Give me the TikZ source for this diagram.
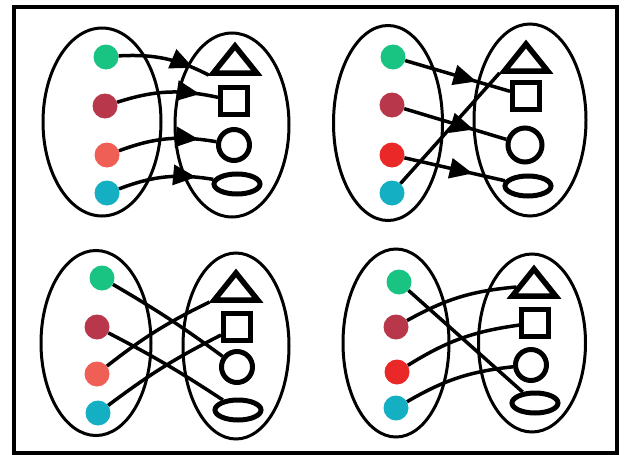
\documentclass[tikz,border=0pt]{standalone}
\usetikzlibrary{arrows.meta,shapes.geometric,decorations.markings}
\definecolor{dotgreen}{RGB}{25,195,130}
\definecolor{dotteal}{RGB}{20,175,195}
\definecolor{dotmaroon}{RGB}{185,55,75}
\definecolor{dotsalmon}{RGB}{240,95,85}
\definecolor{dotred}{RGB}{235,40,40}
\tikzset{
  setoval/.style={draw, ellipse, line width=3pt, inner sep=0pt},
  markdot/.style={circle, inner sep=0pt, minimum size=25pt},
  shapetri/.style={draw, regular polygon, regular polygon sides=3, minimum size=50pt, inner sep=0pt, yscale=0.72, transform shape, line width=5.5pt},
  shapesq/.style={draw, rectangle, minimum size=27pt, inner sep=0pt, line width=5pt},
  shapecirc/.style={draw, circle, minimum size=31pt, inner sep=0pt, line width=5pt},
  shapeoval/.style={draw, ellipse, minimum width=46pt, minimum height=20pt, inner sep=0pt, line width=5pt},
  link/.style={line width=3.5pt},
  arrowlink/.style={link, postaction={decorate},
    decoration={markings, mark=at position #1 with {\arrow{Triangle[length=23pt,width=20pt]}}}},
  arrowlink/.default=0.7
}
\begin{document}
\begin{tikzpicture}[x=1pt, y=-1pt]
  \useasboundingbox (0,0) rectangle (627,455);
  % Frame
  \draw[line width=3.5pt] (14,7) rectangle (617,453);

  % Panel 1: top left
  \node[setoval, minimum width=118pt, minimum height=188pt] (p1dom) at (102,122) {};
  \node[setoval, minimum width=114pt, minimum height=184pt] (p1cod) at (232,125) {};
  \node[markdot, fill=dotgreen] (p1g) at (106,57) {};
  \node[markdot, fill=dotmaroon] (p1m) at (105,106) {};
  \node[markdot, fill=dotsalmon] (p1s) at (107,155) {};
  \node[markdot, fill=dotteal] (p1t) at (107,193) {};
  \node[shapetri] (p1tri) at (235,64) {};
  \node[shapesq] (p1sq) at (234,101) {};
  \node[shapecirc] (p1circ) at (234,145) {};
  \node[shapeoval] (p1oval) at (237,184) {};
  \draw[arrowlink=0.82] (p1g) to[bend left=15] (p1tri.corner 2);
  \draw[arrowlink=0.82] (p1m) to[bend left=15] (p1sq);
  \draw[arrowlink=0.82] (p1s) to[bend left=15] (p1circ);
  \draw[arrowlink=0.82] (p1t) to[bend left=15] (p1oval);

  % Panel 2: top right
  \node[setoval, minimum width=109pt, minimum height=195pt] (p2dom) at (388,123) {};
  \node[setoval, minimum width=112pt, minimum height=192pt] (p2cod) at (530,120) {};
  \node[markdot, fill=dotgreen] (p2g) at (393,57) {};
  \node[markdot, fill=dotmaroon] (p2m) at (392,105) {};
  \node[markdot, fill=dotred] (p2r) at (392,155) {};
  \node[markdot, fill=dotteal] (p2t) at (392,193) {};
  \node[shapetri] (p2tri) at (526,62) {};
  \node[shapesq] (p2sq) at (526,96) {};
  \node[shapecirc, minimum size=34pt] (p2circ) at (525,145) {};
  \node[shapeoval] (p2oval) at (528,186) {};
  \draw[arrowlink=0.68] (p2g) -- (p2sq);
  \draw[arrowlink=0.68] (p2m) -- (p2circ);
  \draw[arrowlink=0.68] (p2r) -- (p2oval);
  \draw[link] (p2t) -- (p2tri.corner 2);

  % Panel 3: bottom left
  \node[setoval, minimum width=110pt, minimum height=185pt] (p3dom) at (96,343) {};
  \node[setoval, minimum width=106pt, minimum height=186pt] (p3cod) at (236,346) {};
  \node[markdot, fill=dotgreen] (p3g) at (102,278) {};
  \node[markdot, fill=dotmaroon] (p3m) at (97,327) {};
  \node[markdot, fill=dotsalmon] (p3s) at (97,374) {};
  \node[markdot, fill=dotteal] (p3t) at (98,413) {};
  \node[shapetri] (p3tri) at (236,291) {};
  \node[shapesq] (p3sq) at (237,327) {};
  \node[shapecirc] (p3circ) at (237,367) {};
  \node[shapeoval] (p3oval) at (238,410) {};
  \draw[link] (p3g) to[bend left=3] (p3circ);
  \draw[link] (p3m) to[bend left=3] (p3oval);
  \draw[link] (p3s) to[bend left=6] (p3tri.corner 2);
  \draw[link] (p3t) to[bend left=5] (p3sq);

  % Panel 4: bottom right
  \node[setoval, minimum width=106pt, minimum height=188pt] (p4dom) at (396,343) {};
  \node[setoval, minimum width=107pt, minimum height=178pt] (p4cod) at (532,343) {};
  \node[markdot, fill=dotgreen] (p4g) at (399,282) {};
  \node[markdot, fill=dotmaroon] (p4m) at (396,327) {};
  \node[markdot, fill=dotred] (p4r) at (397,372) {};
  \node[markdot, fill=dotteal] (p4t) at (396,408) {};
  \node[shapetri] (p4tri) at (534,287) {};
  \node[shapesq] (p4sq) at (535,323) {};
  \node[shapecirc] (p4circ) at (531,365) {};
  \node[shapeoval] (p4oval) at (535,403) {};
  \draw[link] (p4g) -- (p4oval);
  \draw[link] (p4m) to[bend left=12] (p4tri.west);
  \draw[link] (p4r) to[bend left=12] (p4sq);
  \draw[link] (p4t) to[bend left=12] (p4circ);
\end{tikzpicture}
\end{document}
